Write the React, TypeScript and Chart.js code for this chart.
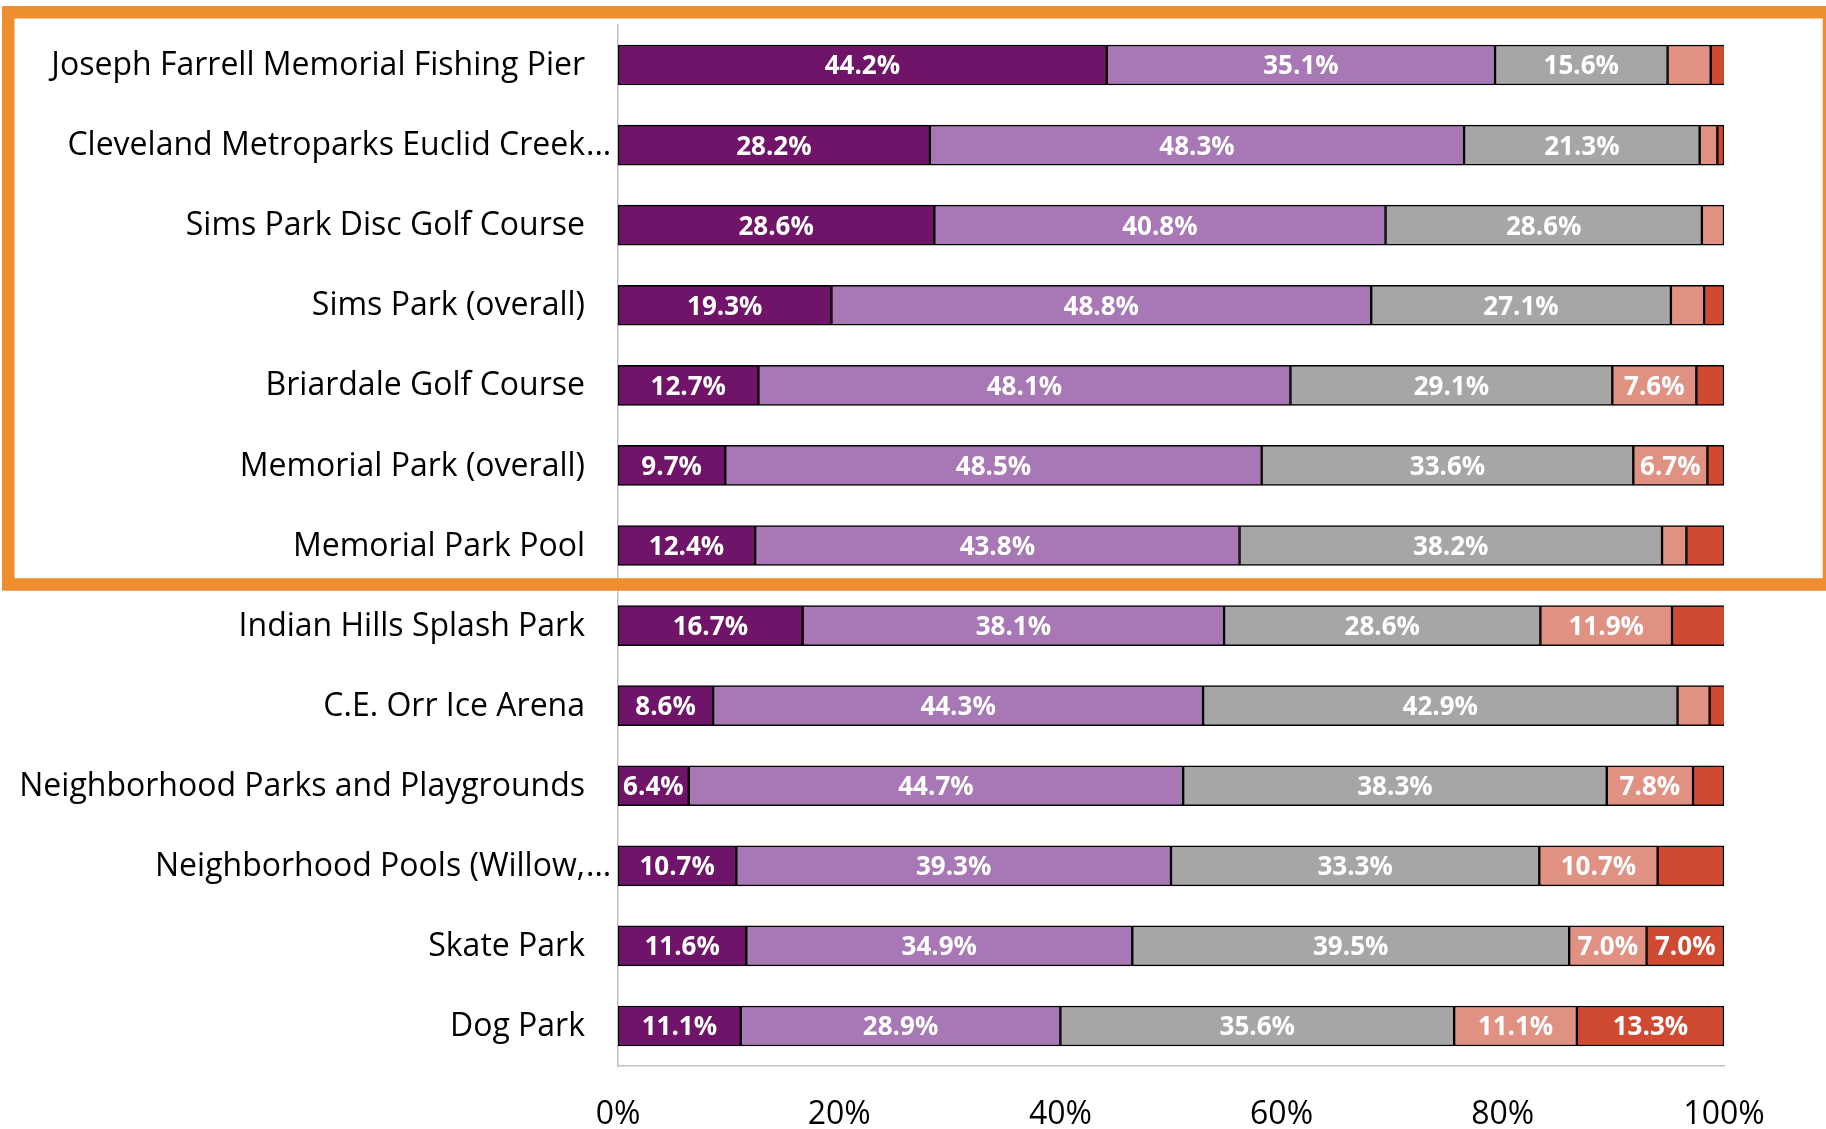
import React, { useEffect, useRef } from "react";
import { Chart, registerables } from "chart.js";

Chart.register(...registerables);

const categories = [
  "Joseph Farrell Memorial Fishing Pier",
  "Cleveland Metroparks Euclid Creek...",
  "Sims Park Disc Golf Course",
  "Sims Park (overall)",
  "Briardale Golf Course",
  "Memorial Park (overall)",
  "Memorial Park Pool",
  "Indian Hills Splash Park",
  "C.E. Orr Ice Arena",
  "Neighborhood Parks and Playgrounds",
  "Neighborhood Pools (Willow,...",
  "Skate Park",
  "Dog Park",
];

const seriesA = [44.2, 28.2, 28.6, 19.3, 12.7, 9.7, 12.4, 16.7, 8.6, 6.4, 10.7, 11.6, 11.1];
const seriesB = [35.1, 48.3, 40.8, 48.8, 48.1, 48.5, 43.8, 38.1, 44.3, 44.7, 39.3, 34.9, 28.9];
const seriesC = [15.6, 21.3, 28.6, 27.1, 29.1, 33.6, 38.2, 28.6, 42.9, 38.3, 33.3, 39.5, 35.6];
const seriesD = [3.9, 1.6, 2.0, 3.0, 7.6, 6.7, 2.2, 11.9, 2.9, 7.8, 10.7, 7.0, 11.1];
const seriesE = [1.3, 0.6, null, 1.8, 2.5, 1.5, 3.4, 4.8, 1.4, 2.8, 6.0, 7.0, 13.3];

const seriesColors = ["#6F1468", "#A778B5", "#A6A6A6", "#E09182", "#D04A32"];
const xTickValues = [0, 20, 40, 60, 80, 100];

const FONT = '"Open Sans", "Noto Sans", sans-serif';

const valueLabelPlugin = {
  id: "valueLabels",
  afterDatasetsDraw(chart: any) {
    const ctx = chart.ctx;
    ctx.save();
    ctx.font = `bold 26px ${FONT}`;
    ctx.fillStyle = "#FFFFFF";
    ctx.textAlign = "center";
    ctx.textBaseline = "middle";
    chart.data.datasets.forEach((ds: any, di: number) => {
      const meta = chart.getDatasetMeta(di);
      meta.data.forEach((el: any, i: number) => {
        const v = ds.data[i];
        if (v == null || v < 6.2) return;
        const p = el.getProps(["x", "base", "y"], true);
        ctx.fillText(v.toFixed(1) + "%", (p.x + p.base) / 2, p.y + 2);
      });
    });
    ctx.restore();
  },
};

const categoryLabelPlugin = {
  id: "categoryLabels",
  afterDraw(chart: any) {
    const ctx = chart.ctx;
    const yScale = chart.scales.y;
    ctx.save();
    ctx.font = `32px ${FONT}`;
    ctx.fillStyle = "#000000";
    ctx.textBaseline = "middle";
    const rightX = yScale.right - 33;
    categories.forEach((label, i) => {
      const y = yScale.getPixelForTick(i) + 1;
      if (label.endsWith("...")) {
        const main = label.slice(0, -3);
        ctx.textAlign = "right";
        ctx.fillText(main, rightX, y);
        ctx.textAlign = "left";
        ctx.fillText("...", rightX + 1, y);
      } else {
        ctx.textAlign = "right";
        ctx.fillText(label, rightX, y);
      }
    });
    ctx.restore();
  },
};

const highlightBoxPlugin = {
  id: "highlightBox",
  afterDraw(chart: any) {
    const ctx = chart.ctx;
    ctx.save();
    ctx.strokeStyle = "#EE8E2E";
    ctx.lineWidth = 12.5;
    ctx.strokeRect(8.25, 12.25, 1829 - 8.25, 584.5 - 12.25);
    ctx.restore();
  },
};

export default function App() {
  const canvasRef = useRef<HTMLCanvasElement | null>(null);

  useEffect(() => {
    let chart: Chart | null = null;
    let cancelled = false;

    const build = () => {
      if (cancelled || !canvasRef.current) return;
      const datasets = [seriesA, seriesB, seriesC, seriesD, seriesE].map((d, i) => ({
        label: `S${i + 1}`,
        data: d,
        backgroundColor: seriesColors[i],
        borderColor: "#000000",
        borderWidth: 1.5,
        borderSkipped: false,
        barThickness: 40,
      }));
      chart = new Chart(canvasRef.current, {
        type: "bar",
        data: { labels: categories, datasets: datasets as any },
        options: {
          indexAxis: "y",
          animation: false,
          responsive: true,
          maintainAspectRatio: false,
          layout: { padding: { top: 25, right: 102, left: 0, bottom: 0 } },
          plugins: {
            legend: { display: false },
            tooltip: { enabled: false },
          },
          scales: {
            x: {
              stacked: true,
              min: 0,
              max: 100,
              afterFit(scale: any) {
                scale.height = 63;
              },
              afterBuildTicks(scale: any) {
                scale.ticks = xTickValues.map((v) => ({ value: v }));
              },
              ticks: {
                padding: 30,
                color: "#000000",
                font: { family: FONT, size: 32 },
                callback: (v: any) => `${v}%`,
                maxRotation: 0,
              },
              grid: { display: false, drawTicks: false },
              border: { display: true, color: "#BFBFBF", width: 1.5 },
            },
            y: {
              stacked: true,
              afterFit(scale: any) {
                scale.width = 618;
              },
              ticks: { display: false },
              grid: { display: false, drawTicks: false },
              border: { display: true, color: "#BFBFBF", width: 1.5 },
            },
          },
        },
        plugins: [valueLabelPlugin, categoryLabelPlugin, highlightBoxPlugin],
      });
    };

    const fontsReady = (document as any).fonts
      ? Promise.all([
          (document as any).fonts.load(`32px "Open Sans"`),
          (document as any).fonts.load(`bold 26px "Open Sans"`),
        ]).catch(() => null)
      : Promise.resolve(null);
    fontsReady.then(build);

    return () => {
      cancelled = true;
      if (chart) chart.destroy();
    };
  }, []);

  return (
    <div
      style={{
        position: "fixed",
        left: 0,
        top: 0,
        width: "1826px",
        height: "1129px",
        background: "#FFFFFF",
      }}
    >
      <canvas ref={canvasRef} />
    </div>
  );
}
